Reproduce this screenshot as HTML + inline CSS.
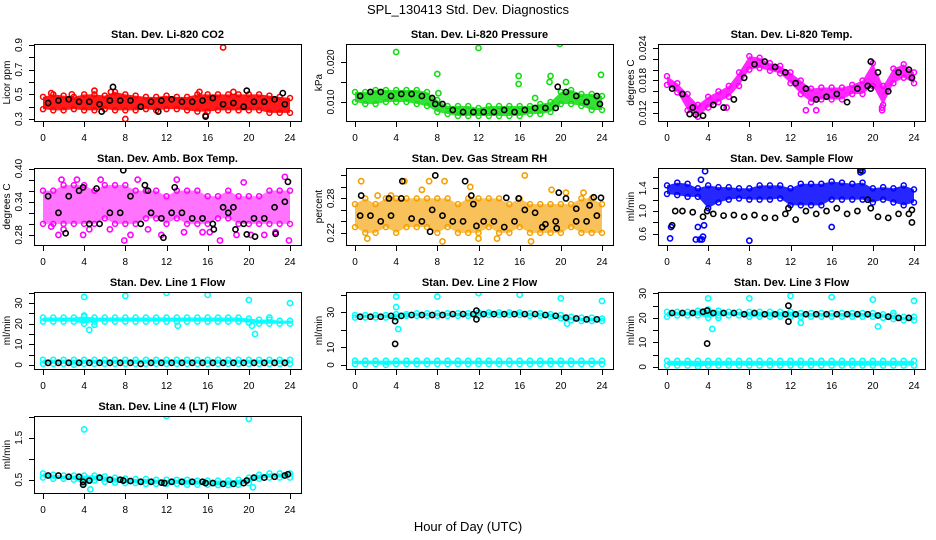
<!DOCTYPE html>
<html><head><meta charset="utf-8">
<style>
html,body{margin:0;padding:0;background:#fff;}
svg{display:block;font-family:"Liberation Sans",Arial,sans-serif;}
</style></head>
<body>
<svg id="chart" width="936" height="540" viewBox="0 0 936 540" xmlns="http://www.w3.org/2000/svg">
<rect x="0" y="0" width="936" height="540" fill="#fff"/>
<text x="468" y="14" font-size="13" text-anchor="middle">SPL_130413  Std. Dev. Diagnostics</text>
<text x="468" y="531" font-size="13" text-anchor="middle">Hour of Day (UTC)</text>
</svg>
<script>
// ---- data ----
const hoursBand = [0,1,2,3,4,5,6,7,8,9,10,11,12,13,14,15,16,17,18,19,20,21,22,23,24];
const hoursBlack = [0.5,1.5,2.5,3.5,4.5,5.5,6.5,7.5,8.5,9.5,10.5,11.5,12.5,13.5,14.5,15.5,16.5,17.5,18.5,19.5,20.5,21.5,22.5,23.5];
const xTicks = [0,4,8,12,16,20,24];

const co2Hi = [0.48,0.50,0.49,0.48,0.50,0.50,0.49,0.52,0.50,0.49,0.48,0.48,0.49,0.48,0.48,0.50,0.50,0.50,0.50,0.50,0.50,0.50,0.49,0.48,0.47];
const co2Lo = [0.38,0.37,0.37,0.38,0.37,0.37,0.38,0.37,0.37,0.37,0.38,0.37,0.38,0.38,0.37,0.36,0.36,0.37,0.37,0.37,0.37,0.37,0.35,0.35,0.35];
const co2Black = [0.43,0.45,0.46,0.44,0.44,0.42,0.45,0.45,0.45,0.40,0.44,0.45,0.46,0.44,0.44,0.45,0.47,0.42,0.43,0.40,0.44,0.44,0.46,0.42];
const co2OutX = [17.5,8,6.6,15.8,0.8,5,2.8,18.5,15.2];
const co2OutY = [0.88,0.30,0.52,0.33,0.51,0.53,0.50,0.52,0.52];
const co2BOutX = [6.8,15.8,19.8,23.3,5.7,11.2];
const co2BOutY = [0.56,0.32,0.53,0.51,0.36,0.36];

const presHi = [0.0125,0.0125,0.013,0.013,0.013,0.013,0.013,0.0125,0.0105,0.009,0.009,0.009,0.0085,0.009,0.009,0.009,0.009,0.009,0.0095,0.010,0.0125,0.013,0.012,0.012,0.0115];
const presLo = [0.010,0.0095,0.0095,0.010,0.010,0.010,0.0095,0.009,0.0075,0.007,0.0065,0.0065,0.0065,0.0065,0.0065,0.0065,0.0065,0.007,0.007,0.0075,0.0095,0.0095,0.009,0.008,0.008];
const presBlack = [0.0115,0.0125,0.0125,0.0115,0.012,0.012,0.0115,0.011,0.0095,0.008,0.0075,0.0075,0.0075,0.0075,0.008,0.0075,0.008,0.0085,0.0085,0.0085,0.0125,0.0115,0.010,0.0115];
const presOutX = [4,8,12,15.9,15.9,19.9,23.9,19,18.9,20.5,17.5,8.1];
const presOutY = [0.0225,0.0170,0.0235,0.0165,0.0145,0.0245,0.0168,0.0165,0.015,0.015,0.011,0.0122];
const presBOutX = [19.7,7.8,23.8];
const presBOutY = [0.0138,0.0095,0.0095];

const tempHi = [0.0188,0.0175,0.0155,0.0135,0.0150,0.0160,0.0170,0.0195,0.0225,0.0222,0.0212,0.0207,0.0195,0.0180,0.0165,0.0167,0.0167,0.0167,0.0172,0.0180,0.0212,0.0170,0.0202,0.0210,0.0195];
const tempLo = [0.0172,0.0158,0.0125,0.0113,0.0130,0.0140,0.0150,0.0170,0.0200,0.0203,0.0198,0.0193,0.0175,0.0155,0.0140,0.0145,0.0145,0.0145,0.0155,0.0155,0.0170,0.0135,0.0175,0.0185,0.0175];
const tempBlack = [0.0165,0.0155,0.0130,0.0115,0.0135,0.0130,0.0145,0.0185,0.0210,0.0215,0.0205,0.0195,0.0175,0.0165,0.0145,0.0150,0.0155,0.0140,0.0165,0.0170,0.0195,0.0160,0.0195,0.0200];
const tempOutX = [20.9,20.9,14.5,13.5,5.8];
const tempOutY = [0.0125,0.0130,0.0125,0.0125,0.0130];
const tempBOutX = [2.2,2.8,19.8,19.8,23.8];
const tempBOutY = [0.0118,0.0117,0.0215,0.0165,0.0185];

const ambHi = [0.36,0.36,0.37,0.37,0.37,0.36,0.37,0.37,0.37,0.36,0.36,0.36,0.35,0.36,0.36,0.36,0.35,0.35,0.36,0.35,0.35,0.35,0.36,0.36,0.36];
const ambLo = [0.30,0.30,0.30,0.30,0.30,0.30,0.31,0.30,0.30,0.30,0.31,0.31,0.30,0.31,0.30,0.30,0.30,0.31,0.31,0.30,0.30,0.30,0.30,0.30,0.30];
const ambBlack = [0.35,0.32,0.35,0.36,0.30,0.30,0.32,0.32,0.35,0.30,0.32,0.31,0.32,0.32,0.31,0.31,0.30,0.33,0.33,0.30,0.31,0.31,0.33,0.34];
const ambOutX = [1.5,1.8,3.3,4.5,5.6,6.5,7.9,8.5,9.2,11.5,13.7,15.5,16.2,17.2,18.8,20.2,21.5,22.6,23.5,23.9,0.8,3.9,2.0,10.2,13.0,19.5];
const ambOutY = [0.28,0.38,0.38,0.29,0.38,0.29,0.27,0.28,0.38,0.28,0.285,0.285,0.285,0.27,0.28,0.28,0.28,0.285,0.385,0.27,0.295,0.28,0.29,0.29,0.38,0.375];
const ambBOutX = [2.2,7.8,11.7,3.9,5.2,10.2,16.6,18.7,19.8,20.6,22.6,23.8,9.9,12.8,18];
const ambBOutY = [0.283,0.397,0.275,0.366,0.364,0.36,0.29,0.29,0.281,0.277,0.282,0.376,0.37,0.366,0.32];

const rhHi = [0.27,0.28,0.27,0.28,0.28,0.28,0.28,0.28,0.28,0.28,0.27,0.28,0.28,0.28,0.28,0.27,0.28,0.27,0.27,0.27,0.27,0.27,0.28,0.28,0.27];
const rhLo = [0.23,0.22,0.22,0.23,0.22,0.23,0.23,0.23,0.22,0.23,0.22,0.22,0.22,0.23,0.22,0.22,0.23,0.22,0.22,0.22,0.22,0.23,0.22,0.22,0.22];
const rhBlack = [0.25,0.25,0.24,0.25,0.28,0.245,0.24,0.26,0.25,0.24,0.24,0.27,0.24,0.24,0.23,0.24,0.26,0.255,0.235,0.24,0.28,0.24,0.24,0.25];
const rhOutX = [0.6,4.8,7.2,8.7,3.5,6.5,11.2,16.5,13.8,19.1,8.5,1.2,20.5,22.2,17.1,12,2.2];
const rhOutY = [0.31,0.31,0.31,0.31,0.285,0.295,0.30,0.32,0.21,0.295,0.205,0.21,0.29,0.29,0.205,0.21,0.285];
const rhBOutX = [0.6,3.3,4.6,7.8,10.7,11.3,14.7,15.9,19.8,23.2,23.9,7.3,11.8,18.2,19.6,21.5,22.8];
const rhBOutY = [0.285,0.28,0.31,0.32,0.31,0.285,0.281,0.28,0.29,0.282,0.281,0.222,0.232,0.23,0.228,0.262,0.268];

const flowHi = [1.45,1.50,1.48,1.40,1.45,1.42,1.42,1.40,1.40,1.45,1.45,1.45,1.40,1.48,1.48,1.48,1.52,1.50,1.48,1.50,1.40,1.42,1.40,1.45,1.38];
const flowLo = [1.30,1.28,1.25,1.25,1.05,1.15,1.20,1.22,1.20,1.20,1.20,1.22,1.10,1.10,1.10,1.10,1.20,1.20,1.20,1.20,1.15,1.20,1.15,1.10,1.15];
const flowBlack = [0.75,1.0,0.98,0.9,0.95,0.92,0.93,0.9,0.93,0.88,0.88,0.95,0.85,1.0,0.95,1.0,1.05,0.95,1.0,1.2,0.9,0.88,0.95,0.95];
const flowOutX = [0.3,0.4,2.8,3.0,3.2,3.5,3.6,3.7,3.4,8,16,3.3,19.0,18.8];
const flowOutY = [0.52,0.72,0.5,0.72,0.5,0.55,0.75,1.7,0.5,0.48,0.72,1.55,1.7,1.68];
const flowBOutX = [0.8,3.9,11.8,18.8,19.8,23.8,23.8];
const flowBOutY = [1.0,1.0,1.05,1.72,1.05,1.02,0.8];

const l1Hi = [23,23,23,23,23.5,23,23,23,23,23,23,23,23,23,23,23,23,23,23,23,22.5,22,22,21.5,21.5];
const l1Lo = [21,21,21,21,20,21,21,21,21,21,21,21,21,21,21,21,21,21,21,21,20.5,20,20,20,20];
const l1LowHi = [2.5,2.5,2.5,2.5,2.5,2.5,2.5,2.5,2.5,2.5,2.5,2.5,2.5,2.5,2.5,2.5,2.5,2.5,2.5,2.5,2.5,2.5,2.5,2.5,2.5];
const l1LowLo = [0.5,0.5,0.5,0.0,0.5,0.5,0.5,0.5,0.5,0.5,0.5,0.5,0.5,0.5,0.5,0.5,0.5,0.5,0.5,0.5,0.5,0.5,0.5,0.5,0.5];
const l1Black = [1,1,1,1,1,1,1,1,1,0.5,1,1,1,1,1,1,1,1,1,1,1,1,1,1];
const l1OutX = [4,8,12,16,20,24,4,4.5,5,13.1,20.3,20.6,22];
const l1OutY = [33,33.5,35,34,31.5,30,24,17,19.5,19,19,15,23];

const l2Hi = [28.5,28.5,28.5,28.5,29,29,29.5,29.5,29.5,29.5,29.5,29.5,30,30,30,30,30,29.5,29.5,29,28.5,27.5,27,27,26.5];
const l2Lo = [27,27,27,27,27,28,28,28,28,28,28,28,28,28.5,28.5,28.5,28.5,28,28,27.5,26.5,25.5,25,25,25];
const l2LowHi = [2.5,2.5,2.5,2.5,2.5,2.5,2.5,2.5,2.5,2.5,2.5,2.5,2.5,2.5,2.5,2.5,2.5,2.5,2.5,2.5,2.5,2.5,2.5,2.5,2.5];
const l2LowLo = [0.5,0.5,0.5,0.0,0.5,0.5,0.5,0.5,0.5,0.5,0.5,0.5,0.5,0.5,0.5,0.5,0.5,0.5,0.5,0.5,0.5,0.5,0.5,0.5,0.5];
const l2Black = [27.5,27.5,27.5,28,28,28.5,28.5,28.5,28.5,29,29,29,29,29,29,29,29,29,28.5,28,27,26.5,26,26];
const l2OutX = [4,8,12,16,20,24,4,4.2,20.6];
const l2OutY = [39,39,41,40,38,36.5,33,20.5,23.5];
const l2BOutX = [3.9,3.9,11.8,11.8];
const l2BOutY = [12,25,31,26];

const l3Hi = [22.5,22.5,22.5,23,23.5,23,22.5,22.5,22.5,22.5,22.5,22.5,22.5,22,22,22,22,22,22,22,22,21.5,21,20.5,20.5];
const l3Lo = [20.5,21,21,21,20,21,21,21,20.5,20.5,20.5,20.5,20.5,20.5,20.5,20.5,20.5,20.5,20.5,20.5,20.5,20,19.5,19,19];
const l3LowHi = [2.5,2.5,2.5,2.5,2.5,2.5,2.5,2.5,2.5,2.5,2.5,2.5,2.5,2.5,2.5,2.5,2.5,2.5,2.5,2.5,2.5,2.5,2.5,2.5,2.5];
const l3LowLo = [0.5,0.5,0.5,0.0,0.5,0.5,0.5,0.5,0.5,0.5,0.5,0.5,0.5,0.5,0.5,0.5,0.5,0.5,0.5,0.5,0.5,0.5,0.5,0.5,0.5];
const l3Black = [22,22,22,22.5,22,22,22,21.5,22,21.5,21.5,21.5,21.5,21.5,21.5,21.5,21.5,21.5,21.5,21.5,21,20.5,20,20];
const l3OutX = [4,8,12,16,20,24,4.4,5,13,20.5,22];
const l3OutY = [28,28,29,28.5,27.5,27,15.5,20,18,16.5,22];
const l3BOutX = [3.9,11.8,11.8,3.9];
const l3BOutY = [9.5,25,18.5,23];

const l4Hi = [0.65,0.62,0.6,0.6,0.6,0.6,0.58,0.55,0.53,0.52,0.52,0.5,0.5,0.5,0.5,0.48,0.48,0.48,0.48,0.5,0.55,0.62,0.65,0.65,0.65];
const l4Lo = [0.55,0.52,0.52,0.5,0.4,0.48,0.45,0.43,0.42,0.42,0.4,0.4,0.4,0.4,0.38,0.38,0.38,0.37,0.37,0.38,0.42,0.52,0.55,0.55,0.55];
const l4Black = [0.6,0.6,0.57,0.57,0.48,0.55,0.5,0.5,0.47,0.45,0.45,0.43,0.45,0.45,0.45,0.45,0.42,0.4,0.4,0.42,0.55,0.55,0.57,0.6];
const l4OutX = [4,12,20,4.6,20.4];
const l4OutY = [1.7,2.02,1.95,0.27,0.32];
const l4BOutX = [3.9,3.9,7.8,11.8,15.8,19.8,23.8];
const l4BOutY = [0.38,0.45,0.48,0.42,0.42,0.48,0.63];

// ---- tick labels ----
const co2YTicks=[0.3,0.4,0.5,0.6,0.7,0.8,0.9], co2YLabels=["0.3","","0.5","","0.7","","0.9"];
const presYTicks=[0.010,0.015,0.020], presYLabels=["0.010","","0.020"];
const tempYTicks=[0.012,0.014,0.016,0.018,0.020,0.022,0.024], tempYLabels=["0.012","","","0.018","","","0.024"];
const ambYTicks=[0.28,0.30,0.32,0.34,0.36,0.38,0.40], ambYLabels=["0.28","","","0.34","","","0.40"];
const rhYTicks=[0.22,0.24,0.26,0.28,0.30,0.32], rhYLabels=["0.22","","","0.28","",""];
const flowYTicks=[0.6,0.8,1.0,1.2,1.4,1.6], flowYLabels=["0.6","","1.0","","1.4",""];
const l1YTicks=[0,5,10,15,20,25,30,35], l1YLabels=["0","","10","","20","","30",""];
const l2YTicks=[0,10,20,30,40], l2YLabels=["0","10","","30",""];
const l3YTicks=[0,5,10,15,20,25,30], l3YLabels=["0","","10","","20","","30"];
const l4YTicks=[0.5,1.0,1.5,2.0], l4YLabels=["0.5","","1.5",""];

// ---- panels ----
const panels = [
 {name:"co2",title:"Stan. Dev. Li-820 CO2",ylab:"Licor ppm",col:0,row:0,d:[0.284,0.908],color:"#ff0000",op:0.9,
  bands:[[co2Hi,co2Lo]],black:co2Black,out:[co2OutX,co2OutY],bout:[co2BOutX,co2BOutY],yt:co2YTicks,yl:co2YLabels},
 {name:"pressure",title:"Stan. Dev. Li-820 Pressure",ylab:"kPa",col:1,row:0,d:[0.00525,0.0245],color:"#11dd11",op:0.85,
  bands:[[presHi,presLo]],black:presBlack,out:[presOutX,presOutY],bout:[presBOutX,presBOutY],yt:presYTicks,yl:presYLabels},
 {name:"temp",title:"Stan. Dev. Li-820 Temp.",ylab:"degrees C",col:2,row:0,d:[0.01052,0.02474],color:"#ff00ff",op:0.85,
  bands:[[tempHi,tempLo]],black:tempBlack,out:[tempOutX,tempOutY],bout:[tempBOutX,tempBOutY],yt:tempYTicks,yl:tempYLabels},
 {name:"amb-box-temp",title:"Stan. Dev. Amb. Box Temp.",ylab:"degrees C",col:0,row:1,d:[0.2618,0.401],color:"#ff00ff",op:0.55,
  bands:[[ambHi,ambLo]],black:ambBlack,out:[ambOutX,ambOutY],bout:[ambBOutX,ambBOutY],yt:ambYTicks,yl:ambYLabels},
 {name:"gas-stream-rh",title:"Stan. Dev. Gas Stream RH",ylab:"percent",col:1,row:1,d:[0.1988,0.333],color:"#f5a000",op:0.65,
  bands:[[rhHi,rhLo]],black:rhBlack,out:[rhOutX,rhOutY],bout:[rhBOutX,rhBOutY],yt:rhYTicks,yl:rhYLabels},
 {name:"sample-flow",title:"Stan. Dev. Sample Flow",ylab:"ml/min",col:2,row:1,d:[0.404,1.756],color:"#0000ff",op:0.85,
  bands:[[flowHi,flowLo]],black:flowBlack,out:[flowOutX,flowOutY],bout:[flowBOutX,flowBOutY],yt:flowYTicks,yl:flowYLabels},
 {name:"line1-flow",title:"Stan. Dev. Line 1 Flow",ylab:"ml/min",col:0,row:2,d:[-2.0,35.4],color:"#00ffff",op:0.95,
  bands:[[l1Hi,l1Lo],[l1LowHi,l1LowLo]],black:l1Black,out:[l1OutX,l1OutY],bout:[[],[]],yt:l1YTicks,yl:l1YLabels},
 {name:"line2-flow",title:"Stan. Dev. Line 2 Flow",ylab:"ml/min",col:1,row:2,d:[-2.3,41.6],color:"#00ffff",op:0.95,
  bands:[[l2Hi,l2Lo],[l2LowHi,l2LowLo]],black:l2Black,out:[l2OutX,l2OutY],bout:[l2BOutX,l2BOutY],yt:l2YTicks,yl:l2YLabels},
 {name:"line3-flow",title:"Stan. Dev. Line 3 Flow",ylab:"ml/min",col:2,row:2,d:[-0.9,30.6],color:"#00ffff",op:0.95,
  bands:[[l3Hi,l3Lo],[l3LowHi,l3LowLo]],black:l3Black,out:[l3OutX,l3OutY],bout:[l3BOutX,l3BOutY],yt:l3YTicks,yl:l3YLabels},
 {name:"line4-flow",title:"Stan. Dev. Line 4 (LT) Flow",ylab:"ml/min",col:0,row:3,d:[0.183,2.02],color:"#00ffff",op:0.95,
  bands:[[l4Hi,l4Lo]],black:l4Black,out:[l4OutX,l4OutY],bout:[l4BOutX,l4BOutY],yt:l4YTicks,yl:l4YLabels}
];

const NS="http://www.w3.org/2000/svg";
const svg=document.getElementById('chart');
function mk(tag,attrs,parent){const e=document.createElementNS(NS,tag);for(const k in attrs)e.setAttribute(k,attrs[k]);(parent||svg).appendChild(e);return e;}

panels.forEach(p=>{
  const left=312*p.col+34, right=left+267, top=44+124*p.row, bottom=top+77;
  const xs=v=>left+9+(v/24)*247;
  const ys=v=>bottom-(v-p.d[0])/(p.d[1]-p.d[0])*(bottom-top);
  const g=mk('g',{});
  
  
  const clipId='clip-'+p.name;
  const cp=mk('clipPath',{id:clipId},g); mk('rect',{x:left,y:top,width:267,height:77},cp);
  const pg=mk('g',{'clip-path':'url(#'+clipId+')'},g);
  
  
  p.bands.forEach(b=>{
    const hi=b[0], lo=b[1];
    let pts=hoursBand.map((h,i)=>xs(h)+','+ys(hi[i]));
    pts=pts.concat(hoursBand.map((h,i)=>xs(h)+','+ys(lo[i])).reverse());
    const poly=mk('polygon',{points:pts.join(' '),fill:p.color,'fill-opacity':p.op,stroke:'none'},pg);
    
    
    hoursBand.forEach((h,i)=>{
      [hi[i],lo[i]].forEach(v=>{
        const c=mk('circle',{cx:xs(h),cy:ys(v),r:2.5,fill:'none',stroke:p.color,'stroke-width':1.5},pg);
        
        
      });
    });
  });
  p.out[0].forEach((x,i)=>{
    const c=mk('circle',{cx:xs(x),cy:ys(p.out[1][i]),r:2.6,fill:'none',stroke:p.color,'stroke-width':1.6},pg);
    
    
  });
  hoursBlack.forEach((h,i)=>{
    const c=mk('circle',{cx:xs(h),cy:ys(p.black[i]),r:2.6,fill:'none',stroke:'#000','stroke-width':1.6},pg);
    
    
  });
  p.bout[0].forEach((x,i)=>{
    const c=mk('circle',{cx:xs(x),cy:ys(p.bout[1][i]),r:2.6,fill:'none',stroke:'#000','stroke-width':1.6},pg);
    
    
  });
  const box=mk('rect',{x:left+0.5,y:top+0.5,width:267,height:77,fill:'none',stroke:'#000','stroke-width':1},g);
  
  
  const xa=mk('g',{},g);
  
  
  mk('line',{x1:xs(xTicks[0]),x2:xs(xTicks[xTicks.length-1]),y1:bottom+0.5,y2:bottom+0.5,stroke:'#000'},xa);
  xTicks.forEach(t=>{
    mk('line',{x1:Math.round(xs(t))+0.5,x2:Math.round(xs(t))+0.5,y1:bottom,y2:bottom+6,stroke:'#000'},xa);
    const tx=mk('text',{x:xs(t),y:bottom+20,'font-size':10,'text-anchor':'middle'},xa);
    tx.textContent=t;
  });
  const ya=mk('g',{},g);
  
  
  mk('line',{x1:left+0.5,x2:left+0.5,y1:ys(p.yt[0]),y2:ys(p.yt[p.yt.length-1]),stroke:'#000'},ya);
  p.yt.forEach((t,i)=>{
    const y=Math.round(ys(t))+0.5;
    mk('line',{x1:left-5,x2:left,y1:y,y2:y,stroke:'#000'},ya);
    if(p.yl[i]){
      const tx=mk('text',{x:left-12,y:ys(t),'font-size':10,'text-anchor':'middle',transform:'rotate(-90 '+(left-12)+' '+ys(t)+')'},ya);
      tx.textContent=p.yl[i];
    }
  });
  const yt=mk('text',{x:left-24,y:(top+bottom)/2,'font-size':10,'text-anchor':'middle',transform:'rotate(-90 '+(left-24)+' '+((top+bottom)/2)+')'},g);
  
  
  yt.textContent=p.ylab;
  const tt=mk('text',{x:(left+right)/2,y:top-6,'font-size':11,'font-weight':'bold','text-anchor':'middle'},g);
  
  
  tt.textContent=p.title;
});
</script>
</body></html>
